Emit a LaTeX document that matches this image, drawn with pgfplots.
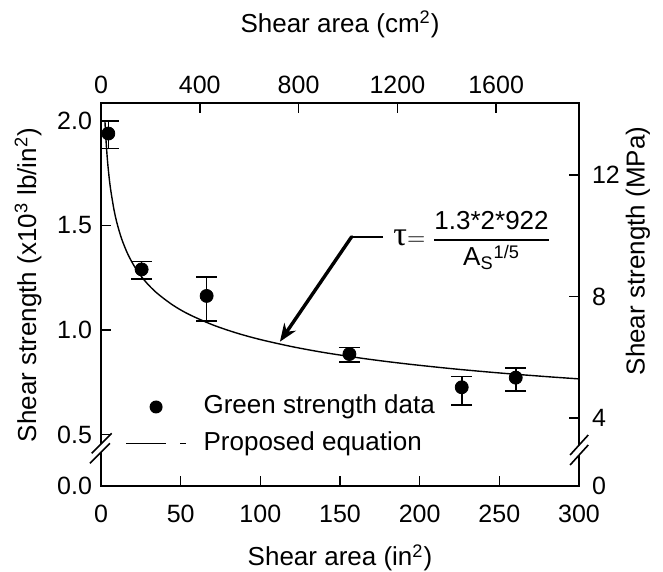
\documentclass[border=0pt]{standalone}
\usepackage{fontspec}
\setmainfont{Liberation Sans}
\newfontfamily\taufont{Liberation Serif}
\usepackage{amsmath}
\usepackage{pgfplots}
\pgfplotsset{compat=1.18}
\usetikzlibrary{arrows.meta}

\begin{document}
\begin{tikzpicture}
\useasboundingbox (-50.5pt,-43pt) rectangle (281pt,243pt);

% main axis: in^2 and 10^3 lb/in^2 (y below 0.5 is a broken axis)
\begin{axis}[
  at={(0pt,0pt)}, anchor=south west,
  width=239pt, height=191.35pt, scale only axis,
  xmin=0, xmax=300, ymin=0.2536, ymax=2.0847,
  xtick={0,50,100,150,200,250,300},
  ytick={0.2536,0.5,1.0,1.5,2.0},
  yticklabels={0.0,0.5,1.0,1.5,2.0},
  xtick pos=left, ytick pos=left,
  tick align=inside,
  major tick length=5pt,
  axis line style={line width=0.8pt},
  every tick/.style={black, line width=0.8pt},
  /pgf/number format/assume math mode=true,
  tick label style={font=\fontsize{12.5}{15}\selectfont},
  xticklabel style={yshift=-6pt},
  yticklabel style={xshift=-1pt},
  label style={font=\fontsize{13}{15}\selectfont},
  xlabel={Shear area (in\textsuperscript{2})},
  ylabel={Shear strength (x10\textsuperscript{3} lb/in\textsuperscript{2})},
  xlabel style={at={(axis description cs:0.5,-0.188)}, anchor=center},
  ylabel style={at={(axis description cs:-0.1527,0.525)}, anchor=center},
  legend style={draw=none, fill=none, at={(axis description cs:0.0502,0.2394)},
    anchor=north west, inner sep=0pt, row sep=6.15pt,
    font=\fontsize{13}{15}\selectfont,
    nodes={inner sep=0pt, text height=9.5pt, text depth=2.7pt},
    /tikz/every odd column/.append style={column sep=8.4pt}},
  legend cell align=left,
]
\addplot[black, only marks, mark=*, mark size=3.25pt,
  legend image code/.code={\path[draw=none] (0pt,0pt) -- (30pt,0pt);
    \fill[black, draw=none] (15pt,0pt) circle[radius=3.25pt];},
  error bars/.cd, y dir=both, y explicit,
  error bar style={line width=0.8pt, black},
  error mark options={rotate=90, mark size=5.25pt, line width=0.8pt, black},
] coordinates {
  (4.6, 1.940)   += (0, 0.060) -= (0, 0.071)
  (25.5, 1.290)  += (0, 0.037) -= (0, 0.047)
  (66.3, 1.163)  += (0, 0.092) -= (0, 0.120)
  (155.9, 0.885) += (0, 0.032) -= (0, 0.037)
  (226.4, 0.726) += (0, 0.051) -= (0, 0.085)
  (260.3, 0.772) += (0, 0.045) -= (0, 0.064)
};
\addplot[black, line width=0.7pt, smooth,
  legend image code/.code={\draw[black, line width=0.7pt,
    dash pattern=on 20pt off 7pt on 3pt off 20pt] (0pt,0pt) -- (30pt,0pt);},
] coordinates {
  (2.5,1.996) (3,1.924) (4,1.817) (5,1.7375) (6,1.6752) (8,1.5816)
  (10,1.5125) (13,1.4352) (17,1.3603) (22,1.2919) (28,1.2310)
  (35,1.1773) (45,1.1196) (55,1.0755) (70,1.0249) (85,0.9858)
  (100,0.9543) (120,0.9202) (140,0.8922) (165,0.8634) (190,0.8394)
  (220,0.8151) (250,0.7945) (280,0.7767) (300,0.7661)
};
\legend{Green strength data, Proposed equation}

% equation and arrow
\draw[black, line width=1pt] (axis cs:177.1,1.446) -- (axis cs:157.3,1.446);
\draw[black, line width=1.7pt, line cap=round,
  -{Stealth[length=9pt, width=7pt]}] (axis cs:157.3,1.446) -- (axis cs:112.3,0.944);
\node[anchor=base west, inner sep=0pt, font=\fontsize{13}{15}\selectfont]
  at (axis cs:183.3,1.403)
  {{\fontsize{17}{17}\selectfont\taufont τ}$\mathrel{=}\genfrac{}{}{0.8pt}{0}{\text{1.3*2*922}}{\text{A}_{\text{S}}{}^{\text{1/5}}}$};
\end{axis}

% second axis: cm^2 on top, MPa on the right
\begin{axis}[
  at={(0pt,0pt)}, anchor=south west,
  width=239pt, height=191.35pt, scale only axis,
  xmin=0, xmax=300, ymin=0.2536, ymax=2.0847,
  clip=false,
  axis line style={draw=none},
  xtick pos=right, ytick pos=right,
  xticklabel pos=right, yticklabel pos=right,
  xtick={0,62.0,124.0,186.0,248.0},
  xticklabels={0,400,800,1200,1600},
  ytick={0.2536,0.5801,1.1603,1.7405},
  yticklabels={0,4,8,12},
  tick align=inside,
  major tick length=5pt,
  every tick/.style={black, line width=0.8pt},
  /pgf/number format/assume math mode=true,
  tick label style={font=\fontsize{12.5}{15}\selectfont},
  xticklabel style={yshift=1.3pt},
  yticklabel style={xshift=3pt},
  label style={font=\fontsize{13}{15}\selectfont},
  xlabel={Shear area (cm\textsuperscript{2})},
  ylabel={Shear strength (MPa)},
  xlabel style={at={(axis description cs:0.5,1.207)}, anchor=center},
  ylabel style={at={(axis description cs:1.1234,0.614)}, anchor=center},
]
% axis breaks
\draw[white, line width=2.5pt] (axis cs:0,0.4544) -- (axis cs:0,0.4150);
\draw[black, line width=0.8pt] (axis cs:6.7,0.5057) -- (axis cs:-5.8,0.4100);
\draw[black, line width=0.8pt] (axis cs:5.6,0.4579) -- (axis cs:-6.9,0.3622);
\draw[white, line width=2.5pt] (axis cs:300,0.4489) -- (axis cs:300,0.4011);
\draw[black, line width=0.8pt] (axis cs:305.8,0.4976) -- (axis cs:294.4,0.4019);
\draw[black, line width=0.8pt] (axis cs:305.8,0.4498) -- (axis cs:294.4,0.3540);
\end{axis}
\end{tikzpicture}
\end{document}
